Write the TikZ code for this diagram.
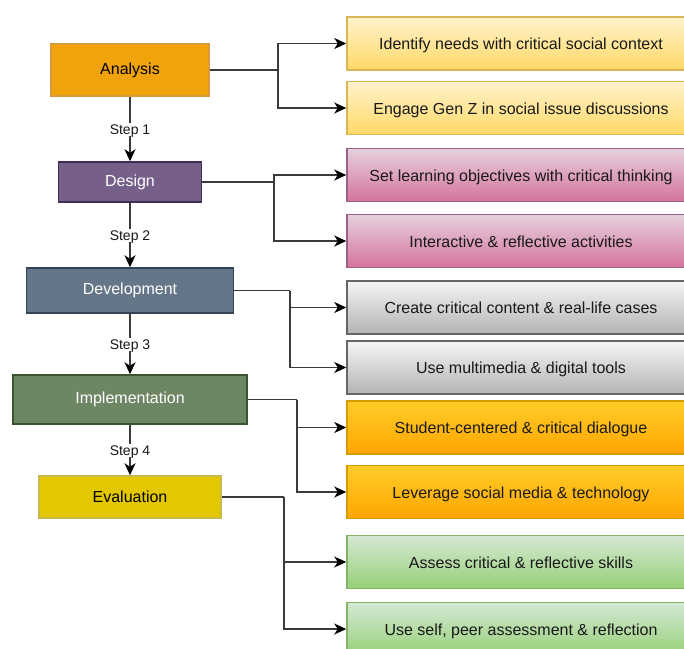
\documentclass[tikz,border=0pt]{standalone}
\usepackage{fontspec}
\setmainfont{Liberation Sans}
\usepackage{xcolor}
\usetikzlibrary{arrows.meta}

% stage colours (fill / border)
\definecolor{anaFill}{HTML}{F0A30A}  \definecolor{anaLine}{HTML}{D99A3A}
\definecolor{desFill}{HTML}{76608A}  \definecolor{desLine}{HTML}{432D57}
\definecolor{devFill}{HTML}{647687}  \definecolor{devLine}{HTML}{314354}
\definecolor{impFill}{HTML}{6D8764}  \definecolor{impLine}{HTML}{3A5431}
\definecolor{evaFill}{HTML}{E3C800}  \definecolor{evaLine}{HTML}{C9B94A}
% task colours (top / bottom / border)
\definecolor{yelTop}{HTML}{FFF2CC}   \definecolor{yelBot}{HTML}{FFD966}   \definecolor{yelLine}{HTML}{D6B656}
\definecolor{pinkTop}{HTML}{E6D0DE}  \definecolor{pinkBot}{HTML}{D5739D}  \definecolor{pinkLine}{HTML}{996185}
\definecolor{greyTop}{HTML}{F5F5F5}  \definecolor{greyBot}{HTML}{B3B3B3}  \definecolor{greyLine}{HTML}{666666}
\definecolor{oraTop}{HTML}{FFCD28}   \definecolor{oraBot}{HTML}{FFA500}   \definecolor{oraLine}{HTML}{D79B00}
\definecolor{grnTop}{HTML}{D5E8D4}   \definecolor{grnBot}{HTML}{97D077}   \definecolor{grnLine}{HTML}{82B366}
\definecolor{wire}{HTML}{3A3A3A}

\begin{document}
\begin{tikzpicture}[x=1pt,y=-1pt,
  stage/.style n args={3}{draw=#2,fill=#1,text=#3,line width=1.5pt,inner sep=0pt,
    minimum height=46pt,font=\fontsize{16}{18}\selectfont},
  task/.style n args={3}{draw=#3,top color=#1,bottom color=#2,line width=1.5pt,inner sep=0pt,
    minimum width=348pt,minimum height=53pt,text height=12pt,text depth=0pt,
    text=black!90,font=\fontsize{16}{18}\selectfont},
  link/.style={draw=wire,line width=1.2pt,-{Stealth[length=12pt,width=11pt,inset=3.5pt,color=black]}},
  wirefeed/.style={draw=wire,line width=1.2pt},
  steplabel/.style={fill=white,inner sep=1.5pt,text height=10pt,text depth=0pt,
    text=black!90,font=\fontsize{14}{16}\selectfont}]
\clip (0,0) rectangle (684,648);

% ADDIE stages
\node[stage={anaFill}{anaLine}{black},minimum width=158pt,minimum height=52pt] (ana) at (130,70) {Analysis};
\node[stage={desFill}{desLine}{white},minimum width=143pt,minimum height=40pt] (des) at (130,182) {Design};
\node[stage={devFill}{devLine}{white},minimum width=207pt,minimum height=45pt] (dev) at (130,290.5) {Development};
\node[stage={impFill}{impLine}{white},minimum width=234pt,minimum height=49pt] (imp) at (130,399.5) {Implementation};
\node[stage={evaFill}{evaLine}{black},minimum width=182pt,minimum height=42pt] (eva) at (130,497) {Evaluation};

% tasks
\node[task={yelTop}{yelBot}{yelLine}] (ana1) at (521,43.5) {Identify needs with critical social context};
\node[task={yelTop}{yelBot}{yelLine}] (ana2) at (521,108) {Engage Gen Z in social issue discussions};
\node[task={pinkTop}{pinkBot}{pinkLine}] (des1) at (521,175) {Set learning objectives with critical thinking};
\node[task={pinkTop}{pinkBot}{pinkLine}] (des2) at (521,241) {Interactive \& reflective activities};
\node[task={greyTop}{greyBot}{greyLine}] (dev1) at (521,307.5) {Create critical content \& real-life cases};
\node[task={greyTop}{greyBot}{greyLine}] (dev2) at (521,367.5) {Use multimedia \& digital tools};
\node[task={oraTop}{oraBot}{oraLine}] (imp1) at (521,427.5) {Student-centered \& critical dialogue};
\node[task={oraTop}{oraBot}{oraLine}] (imp2) at (521,492) {Leverage social media \& technology};
\node[task={grnTop}{grnBot}{grnLine}] (eva1) at (521,562) {Assess critical \& reflective skills};
\node[task={grnTop}{grnBot}{grnLine}] (eva2) at (521,629) {Use self, peer assessment \& reflection};

% steps
\draw[link] (ana) -- node[steplabel]{Step 1} (des);
\draw[link] (des) -- node[steplabel]{Step 2} (dev);
\draw[link] (dev) -- node[steplabel]{Step 3} (imp);
\draw[link] (imp) -- node[steplabel]{Step 4} (eva);

% branches
\coordinate (jAna) at (278,70);
\coordinate (jDes) at (274,182);
\coordinate (jDev) at (290,290.5);
\coordinate (jImp) at (297,399.5);
\coordinate (jEva) at (284,497);
\draw[wirefeed] (ana.east) -- (jAna);
\draw[wirefeed] (des.east) -- (jDes);
\draw[wirefeed] (dev.east) -- (jDev);
\draw[wirefeed] (imp.east) -- (jImp);
\draw[wirefeed] (eva.east) -- (jEva);
\draw[link] (jAna) |- (ana1.west);
\draw[link] (jAna) |- (ana2.west);
\draw[link] (jDes) |- (des1.west);
\draw[link] (jDes) |- (des2.west);
\draw[link] (jDev) |- (dev1.west);
\draw[link] (jDev) |- (dev2.west);
\draw[link] (jImp) |- (imp1.west);
\draw[link] (jImp) |- (imp2.west);
\draw[link] (jEva) |- (eva1.west);
\draw[link] (jEva) |- (eva2.west);
\end{tikzpicture}
\end{document}
